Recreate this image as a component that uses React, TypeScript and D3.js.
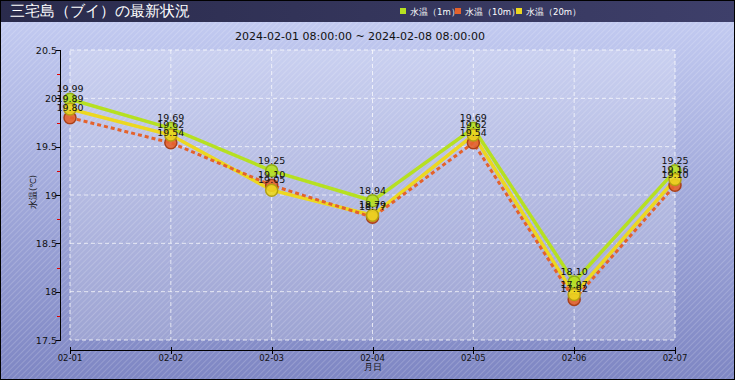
import React, { useEffect, useRef } from "react";
import * as d3 from "d3";

const dates = ["02-01", "02-02", "02-03", "02-04", "02-05", "02-06", "02-07"];
const temp1m = [19.99, 19.69, 19.25, 18.94, 19.69, 18.1, 19.25];
const temp10m = [19.8, 19.54, 19.1, 18.77, 19.54, 17.92, 19.1];
const temp20m = [19.89, 19.62, 19.05, 18.79, 19.62, 17.97, 19.16];
const yTicks = [17.5, 18, 18.5, 19, 19.5, 20, 20.5];
const yMinorTicks = [17.75, 18.25, 18.75, 19.25, 19.75, 20.25];
const legendNames = ["水温（1m）", "水温（10m）", "水温（20m）"];

const W = 735;
const H = 380;

export default function App() {
  const ref = useRef<SVGSVGElement>(null);

  useEffect(() => {
    document.body.style.margin = "0";
    const svg = d3.select(ref.current);
    svg.selectAll("*").remove();
    const font = "'DejaVu Sans', sans-serif";

    const defs = svg.append("defs");
    const bg = defs.append("linearGradient").attr("id", "bg").attr("x1", 0).attr("y1", 0).attr("x2", 0).attr("y2", 1);
    bg.append("stop").attr("offset", "0%").attr("stop-color", "#c6cef3");
    bg.append("stop").attr("offset", "100%").attr("stop-color", "#7e86c3");
    const tb = defs.append("linearGradient").attr("id", "tb").attr("x1", 0).attr("y1", 0).attr("x2", 1).attr("y2", 0);
    tb.append("stop").attr("offset", "0%").attr("stop-color", "#2a2b4c");
    tb.append("stop").attr("offset", "100%").attr("stop-color", "#3e3f6a");
    const pat = defs.append("pattern").attr("id", "stripes").attr("width", 4).attr("height", 4)
      .attr("patternUnits", "userSpaceOnUse").attr("patternTransform", "rotate(45)");
    pat.append("line").attr("x1", 0).attr("y1", 0).attr("x2", 0).attr("y2", 4)
      .attr("stroke", "#ffffff").attr("stroke-opacity", 0.28).attr("stroke-width", 1.2);

    svg.append("rect").attr("width", W).attr("height", H).attr("fill", "url(#bg)");
    svg.append("rect").attr("width", W).attr("height", H).attr("fill", "url(#stripes)");

    // title bar
    svg.append("rect").attr("x", 0).attr("y", 0).attr("width", W).attr("height", 22).attr("fill", "url(#tb)");
    svg.append("text").attr("x", 10).attr("y", 16).attr("fill", "#ffffff")
      .attr("font-family", font).attr("font-size", 15).text("三宅島（ブイ）の最新状況");

    const x = d3.scaleLinear().domain([0, dates.length - 1]).range([70, 675]);
    const y = d3.scaleLinear().domain([17.5, 20.5]).range([340, 50]);

    const colors = ["#b6e021", "#e4622c", "#ecd820"];
    const strokes = ["#8fae14", "#a8401a", "#b3a012"];

    // legend
    const lx = [400, 455, 516];
    legendNames.forEach((n, i) => {
      svg.append("rect").attr("x", lx[i]).attr("y", 8).attr("width", 6).attr("height", 6).attr("fill", colors[i]);
      svg.append("text").attr("x", lx[i] + 10).attr("y", 14.5).attr("fill", "#ffffff")
        .attr("font-family", font).attr("font-size", 8.5).text(n);
    });

    // subtitle
    svg.append("text").attr("x", 360).attr("y", 40).attr("text-anchor", "middle").attr("fill", "#111")
      .attr("font-family", font).attr("font-size", 11).text("2024-02-01 08:00:00 ~ 2024-02-08 08:00:00");

    // plot area
    svg.append("rect").attr("x", 70).attr("y", 50).attr("width", 605).attr("height", 290)
      .attr("fill", "#ffffff").attr("fill-opacity", 0.2)
      .attr("stroke", "#ffffff").attr("stroke-opacity", 0.8).attr("stroke-dasharray", "4,3");
    yTicks.slice(1, -1).forEach((t) => {
      svg.append("line").attr("x1", 70).attr("x2", 675).attr("y1", y(t)).attr("y2", y(t))
        .attr("stroke", "#ffffff").attr("stroke-opacity", 0.7).attr("stroke-dasharray", "4,3");
    });
    dates.forEach((d, i) => {
      if (i === 0 || i === dates.length - 1) return;
      svg.append("line").attr("x1", x(i)).attr("x2", x(i)).attr("y1", 50).attr("y2", 340)
        .attr("stroke", "#ffffff").attr("stroke-opacity", 0.7).attr("stroke-dasharray", "4,3");
    });

    // y axis
    svg.append("line").attr("x1", 60.5).attr("x2", 60.5).attr("y1", 50).attr("y2", 341).attr("stroke", "#000");
    yTicks.forEach((t) => {
      svg.append("line").attr("x1", 56).attr("x2", 60).attr("y1", Math.round(y(t)) + 0.5).attr("y2", Math.round(y(t)) + 0.5).attr("stroke", "#000");
      svg.append("text").attr("x", 57).attr("y", y(t) + 3.5).attr("text-anchor", "end").attr("fill", "#111")
        .attr("font-family", font).attr("font-size", 9.5).text(d3.format("")(t));
    });
    yMinorTicks.forEach((t) => {
      svg.append("line").attr("x1", 57).attr("x2", 60).attr("y1", Math.round(y(t)) + 0.5).attr("y2", Math.round(y(t)) + 0.5).attr("stroke", "#e00000");
    });
    svg.append("text").attr("transform", "translate(36,192) rotate(-90)").attr("text-anchor", "middle")
      .attr("fill", "#111").attr("font-family", font).attr("font-size", 8.5).text("水温(℃)");

    // x axis
    svg.append("line").attr("x1", 70).attr("x2", 675).attr("y1", 350.5).attr("y2", 350.5).attr("stroke", "#000").attr("stroke-width", 1.2);
    dates.forEach((d, i) => {
      svg.append("line").attr("x1", Math.round(x(i)) + 0.5).attr("x2", Math.round(x(i)) + 0.5).attr("y1", 347).attr("y2", 354).attr("stroke", "#000");
      svg.append("text").attr("x", x(i)).attr("y", 361).attr("text-anchor", "middle").attr("fill", "#111")
        .attr("font-family", font).attr("font-size", 8.5).text(d);
    });
    svg.append("text").attr("x", 373).attr("y", 370).attr("text-anchor", "middle").attr("fill", "#111")
      .attr("font-family", font).attr("font-size", 8.5).text("月日");

    const series = [temp1m, temp10m, temp20m];
    const line = d3.line<number>().x((_, i) => x(i)).y((v) => y(v));

    // lines
    svg.append("path").attr("d", line(temp1m)).attr("fill", "none").attr("stroke", colors[0]).attr("stroke-width", 3.5);
    svg.append("path").attr("d", line(temp20m)).attr("fill", "none").attr("stroke", colors[2]).attr("stroke-width", 3.5);
    svg.append("path").attr("d", line(temp10m)).attr("fill", "none").attr("stroke", colors[1]).attr("stroke-width", 3).attr("stroke-dasharray", "4,3");

    // points
    [1, 0, 2].forEach((si) => {
      series[si].forEach((v, i) => {
        svg.append("circle").attr("cx", x(i)).attr("cy", y(v)).attr("r", 6)
          .attr("fill", colors[si]).attr("fill-opacity", 0.9).attr("stroke", strokes[si]).attr("stroke-width", 1.5);
      });
    });

    // labels
    [0, 2, 1].forEach((si) => {
      series[si].forEach((v, i) => {
        svg.append("text").attr("x", x(i)).attr("y", y(v) - 7).attr("text-anchor", "middle").attr("fill", "#111")
          .attr("font-family", font).attr("font-size", 9.5).text(v.toFixed(2));
      });
    });

    svg.append("rect").attr("x", 0.5).attr("y", 0.5).attr("width", W - 1).attr("height", H - 1)
      .attr("fill", "none").attr("stroke", "#000");
  }, []);

  return (
    <svg ref={ref} width={W} height={H} style={{ position: "absolute", left: 0, top: 0, display: "block" }} />
  );
}
